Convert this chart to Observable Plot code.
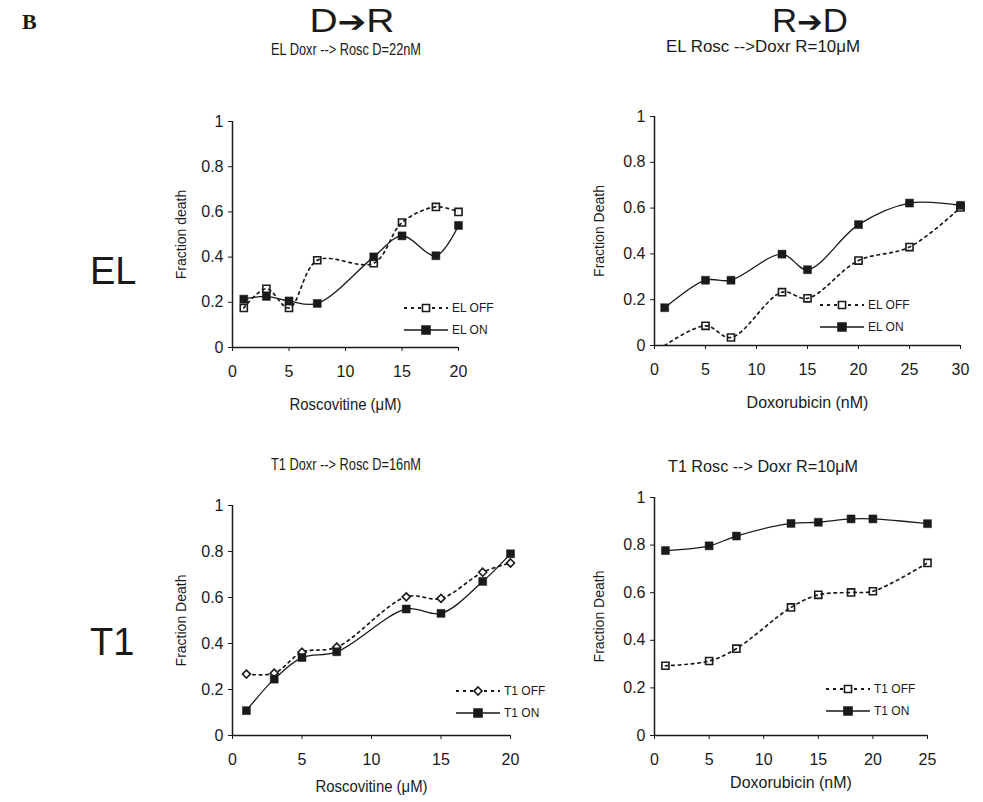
<!DOCTYPE html>
<html><head><meta charset="utf-8">
<script src="https://cdn.jsdelivr.net/npm/d3@7"></script>
<script src="https://cdn.jsdelivr.net/npm/@observablehq/plot@0.6"></script>
<style>
body{margin:0;background:#fff;}
#fig{position:relative;width:983px;height:802px;overflow:hidden;font-family:"Liberation Sans",Arial,Helvetica,sans-serif;}
#fig > svg{position:absolute;}
</style></head><body><div id="fig"></div>
<script>
// ---- data ----
const yTicks = [0, 0.2, 0.4, 0.6, 0.8, 1];

// EL, D -> R (Roscovitine, µM)
const elDRx   = [1, 3, 5, 7.5, 12.5, 15, 18, 20];
const elDROff = [0.175, 0.26, 0.175, 0.386, 0.373, 0.553, 0.622, 0.60];
const elDROn  = [0.214, 0.226, 0.206, 0.195, 0.401, 0.494, 0.406, 0.54];

// EL, R -> D (Doxorubicin, nM)
const elRDx   = [1, 5, 7.5, 12.5, 15, 20, 25, 30];
const elRDOff = [0, 0.086, 0.035, 0.233, 0.206, 0.371, 0.430, 0.603];
const elRDOn  = [0.165, 0.285, 0.285, 0.399, 0.331, 0.528, 0.622, 0.612];

// T1, D -> R (Roscovitine, µM)
const t1DRx   = [1, 3, 5, 7.5, 12.5, 15, 18, 20];
const t1DROff = [0.267, 0.271, 0.362, 0.384, 0.603, 0.596, 0.71, 0.75];
const t1DROn  = [0.108, 0.245, 0.339, 0.364, 0.550, 0.531, 0.67, 0.79];

// T1, R -> D (Doxorubicin, nM)
const t1RDx   = [1, 5, 7.5, 12.5, 15, 18, 20, 25];
const t1RDOff = [0.293, 0.313, 0.365, 0.538, 0.591, 0.601, 0.606, 0.725];
const t1RDOn  = [0.777, 0.797, 0.838, 0.891, 0.896, 0.910, 0.910, 0.89];

const FONT = '"Liberation Sans", Arial, Helvetica, sans-serif';
const fig = document.getElementById("fig");
const INK = "#1a1a1a";

function panel(c) {
  const ml = 75, mr = 15, mt = 12, mb = 72;
  const W = c.x1 - c.x0, H = c.yBot - c.yTop;
  const offData = c.xs.map((x, i) => ({x, y: c.off[i]}));
  const onData  = c.xs.map((x, i) => ({x, y: c.on[i]}));
  const chart = Plot.plot({
    width: ml + W + mr, height: mt + H + mb,
    marginLeft: ml, marginRight: mr, marginTop: mt, marginBottom: mb,
    style: {fontFamily: FONT, fontSize: "16px", color: INK, background: "transparent", overflow: "visible"},
    x: {domain: [0, c.xMax], ticks: c.xTicks, tickFormat: d => String(d), label: c.xLabel,
        labelAnchor: "center", labelArrow: false, labelOffset: c.xlo, tickSize: 4, tickPadding: 14},
    y: {domain: [0, 1], ticks: yTicks, tickFormat: d => String(d), label: c.yLabel,
        labelAnchor: "center", labelArrow: false, labelOffset: c.ylo, tickSize: 4, tickPadding: 5},
    marks: [
      Plot.line(offData, {x: "x", y: "y", curve: "catmull-rom", stroke: INK, strokeWidth: 1.7,
        strokeDasharray: "2.5,4", clip: true}),
      Plot.line(onData, {x: "x", y: "y", curve: "catmull-rom", stroke: INK, strokeWidth: 1.3, clip: true}),
      Plot.ruleX([0], {stroke: INK, strokeWidth: 1.5}),
      Plot.ruleY([0], {stroke: INK, strokeWidth: 1.5}),
      Plot.dot(offData.filter(d => d.y > 0), {x: "x", y: "y", symbol: c.offSymbol, r: c.offR,
        stroke: INK, strokeWidth: 1.6, fill: c.offFill}),
      Plot.dot(onData, {x: "x", y: "y", symbol: "square", r: 4.5, fill: INK, stroke: INK, strokeWidth: 0.5})
    ]
  });
  // axis-label sizes
  chart.querySelectorAll('[aria-label="y-axis label"] text').forEach(t => t.setAttribute("font-size", 14));
  chart.querySelectorAll('[aria-label="x-axis label"] text').forEach(t => {
    if (c.xlw) { t.setAttribute("textLength", c.xlw); t.setAttribute("lengthAdjust", "spacingAndGlyphs"); }
  });
  chart.style.left = (c.x0 - ml) + "px";
  chart.style.top = (c.yTop - mt) + "px";
  fig.append(chart);
}

const panels = [
  {x0: 232, x1: 458, yTop: 121, yBot: 347, xMax: 20, xTicks: [0,5,10,15,20], xs: elDRx, off: elDROff, on: elDROn,
   xLabel: "Roscovitine (\u03BCM)", yLabel: "Fraction death", offSymbol: "square", offR: 4.0, offFill: "none",
   xlo: 62, ylo: 56, xlw: 112, names: ["EL OFF", "EL ON"], lx: 404, ly: 308},
  {x0: 654, x1: 960, yTop: 116, yBot: 345, xMax: 30, xTicks: [0,5,10,15,20,25,30], xs: elRDx, off: elRDOff, on: elRDOn,
   xLabel: "Doxorubicin (nM)", yLabel: "Fraction Death", offSymbol: "square", offR: 4.0, offFill: "none",
   xlo: 62, ylo: 60, names: ["EL OFF", "EL ON"], lx: 820, ly: 305},
  {x0: 232, x1: 510, yTop: 505, yBot: 735, xMax: 20, xTicks: [0,5,10,15,20], xs: t1DRx, off: t1DROff, on: t1DROn,
   xLabel: "Roscovitine (\u03BCM)", yLabel: "Fraction Death", offSymbol: "diamond2", offR: 3.6, offFill: "white",
   xlo: 56, ylo: 56, xlw: 112, names: ["T1 OFF", "T1 ON"], lx: 456, ly: 691},
  {x0: 654, x1: 927, yTop: 497, yBot: 735, xMax: 25, xTicks: [0,5,10,15,20,25], xs: t1RDx, off: t1RDOff, on: t1RDOn,
   xLabel: "Doxorubicin (nM)", yLabel: "Fraction Death", offSymbol: "square", offR: 4.0, offFill: "none",
   xlo: 52, ylo: 60, names: ["T1 OFF", "T1 ON"], lx: 826, ly: 689}
];
panels.forEach(panel);

// ---- overlay: headings, row labels, legends ----
const svg = d3.select(fig).append("svg")
  .attr("width", 983).attr("height", 802)
  .style("left", "0px").style("top", "0px").style("pointer-events", "none")
  .attr("font-family", FONT).attr("fill", INK);

svg.append("text").attr("x", 22).attr("y", 29).attr("font-family", '"Liberation Serif", "Times New Roman", serif')
  .attr("font-weight", "bold").attr("font-size", 22).text("B");

const heads = [
  {x: 352, y: 32, a: "D", b: "R", w: 85},
  {x: 810, y: 32, a: "R", b: "D", w: 76}
];
heads.forEach(h => {
  const t = svg.append("text").attr("x", h.x).attr("y", h.y).attr("text-anchor", "middle").attr("font-size", 34)
    .attr("textLength", h.w).attr("lengthAdjust", "spacingAndGlyphs");
  t.append("tspan").text(h.a);
  t.append("tspan").attr("font-family", '"DejaVu Sans", sans-serif').attr("font-size", 30).text("\u2794");
  t.append("tspan").text(h.b);
});

const titles = [
  {x: 346, y: 55, t: "EL Doxr --> Rosc D=22nM", w: 150},
  {x: 763, y: 52, t: "EL Rosc -->Doxr R=10\u03BCM", w: 194},
  {x: 346, y: 470, t: "T1 Doxr --> Rosc D=16nM", w: 150},
  {x: 763, y: 472, t: "T1 Rosc --> Doxr R=10\u03BCM", w: 190}
];
titles.forEach(d => svg.append("text").attr("x", d.x).attr("y", d.y).attr("text-anchor", "middle")
  .attr("font-size", 16).attr("textLength", d.w).attr("lengthAdjust", "spacingAndGlyphs").text(d.t));

svg.append("text").attr("x", 90).attr("y", 284).attr("font-size", 38).text("EL");
svg.append("text").attr("x", 90).attr("y", 655).attr("font-size", 38).text("T1");

// legends
panels.forEach(p => {
  const rows = [
    {name: p.names[0], dy: 0, dash: "3,4", sw: 1.8, sym: p.offSymbol, r: p.offR, fill: "white"},
    {name: p.names[1], dy: 22, dash: null, sw: 1.3, sym: "square", r: 4.5, fill: INK}
  ];
  rows.forEach(r => {
    const y = p.ly + r.dy;
    const ln = svg.append("line").attr("x1", p.lx).attr("x2", p.lx + 44).attr("y1", y).attr("y2", y)
      .attr("stroke", INK).attr("stroke-width", r.sw);
    if (r.dash) ln.attr("stroke-dasharray", r.dash);
    const symType = r.sym === "diamond2" ? d3.symbolDiamond2 : d3.symbolSquare;
    svg.append("path").attr("transform", `translate(${p.lx + 22},${y})`)
      .attr("d", d3.symbol(symType, Math.PI * r.r * r.r)())
      .attr("fill", r.fill).attr("stroke", INK).attr("stroke-width", 1.6);
    svg.append("text").attr("x", p.lx + 48).attr("y", y + 4).attr("font-size", 12).text(r.name);
  });
});
</script></body></html>
